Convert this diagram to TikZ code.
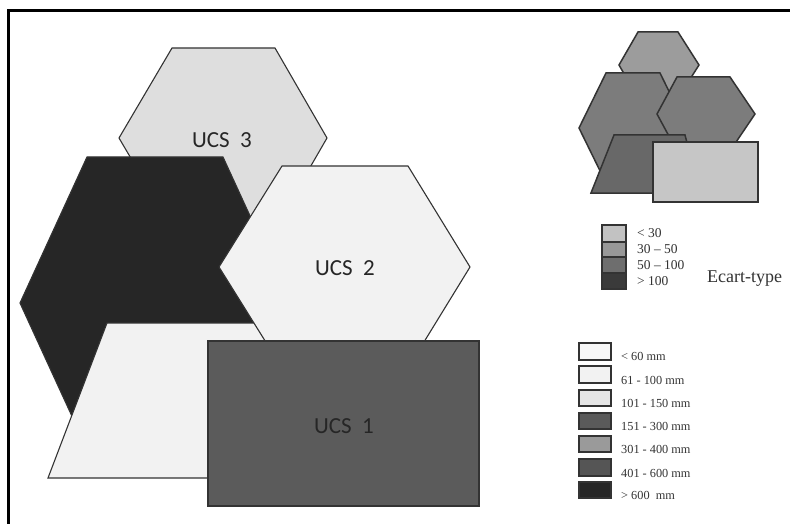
\documentclass[tikz,border=0pt]{standalone}
\usepackage{fontspec}
\setmainfont{Liberation Serif}
\newfontfamily\ucsfont{Carlito}
\definecolor{edgec}{HTML}{333333}
\definecolor{ucsthree}{HTML}{DEDEDE}
\definecolor{darkc}{HTML}{262626}
\definecolor{paleC}{HTML}{F2F2F2}
\definecolor{rectc}{HTML}{5B5B5B}
\definecolor{sTop}{HTML}{9C9C9C}
\definecolor{sMid}{HTML}{7C7C7C}
\definecolor{sTrap}{HTML}{686868}
\definecolor{sRect}{HTML}{C6C6C6}
\definecolor{eA}{HTML}{C2C2C2}
\definecolor{eB}{HTML}{989898}
\definecolor{eC}{HTML}{6E6E6E}
\definecolor{eD}{HTML}{3A3A3A}
\definecolor{mA}{HTML}{F8F8F8}
\definecolor{mB}{HTML}{F2F2F2}
\definecolor{mC}{HTML}{E6E6E6}
\definecolor{mD}{HTML}{5A5A5A}
\definecolor{mE}{HTML}{9A9A9A}
\definecolor{mF}{HTML}{555555}
\definecolor{mG}{HTML}{262626}
\tikzset{
  bigshape/.style={draw=edgec, line width=1.1pt, line join=miter},
  smallshape/.style={draw=edgec, line width=1.5pt, line join=miter},
  ucslabel/.style={font=\ucsfont\fontsize{23}{26}\selectfont, text=black!85, inner sep=0pt},
  ebox/.style={draw=edgec, line width=1.3pt},
  mbox/.style={draw=edgec, line width=1.5pt},
  elabel/.style={font=\fontsize{13.5}{14}\selectfont, text=black!80, anchor=west, inner sep=0pt},
  mlabel/.style={font=\fontsize{12.3}{13}\selectfont, text=black!80, anchor=west, inner sep=0pt}
}
\begin{document}
\begin{tikzpicture}[x=1pt,y=-1pt]
\useasboundingbox (0,0) rectangle (790,524);
\fill[white] (0,0) rectangle (790,524);
% frame
\draw[line width=3pt] (8,524) -- (8,11) -- (790,11);
% main shapes
\filldraw[bigshape, fill=ucsthree] (172,48) -- (275,48) -- (327,138) -- (275,228) -- (172,228) -- (119,138) -- cycle;
\filldraw[bigshape, fill=darkc] (87,157) -- (223,157) -- (290,303) -- (223,449) -- (87,449) -- (20,303) -- cycle;
\filldraw[bigshape, fill=paleC] (107,323) -- (300,323) -- (360,478) -- (48,478) -- cycle;
\filldraw[bigshape, fill=paleC] (282,166) -- (408,166) -- (470,267) -- (408,368) -- (282,368) -- (219,267) -- cycle;
\filldraw[bigshape, fill=rectc] (208,341) rectangle (479,506);
\node[ucslabel] (u3) at (222,140) {UCS\ \ 3};
\node[ucslabel] (u2) at (345,268) {UCS\ \ 2};
\node[ucslabel] (u1) at (344,426) {UCS\ \ 1};
% small legend shapes
\filldraw[smallshape, fill=sTop] (638,32) -- (678,32) -- (699,65) -- (678,98) -- (638,98) -- (619,65) -- cycle;
\filldraw[smallshape, fill=sMid] (606,73) -- (660,73) -- (687,128) -- (660,183) -- (606,183) -- (579,128) -- cycle;
\filldraw[smallshape, fill=sMid] (677,77) -- (730,77) -- (755,114) -- (730,151) -- (677,151) -- (657,114) -- cycle;
\filldraw[smallshape, fill=sTrap] (614,135) -- (685,135) -- (700,193) -- (591,193) -- cycle;
\filldraw[smallshape, fill=sRect] (653,142) rectangle (758,202);
% Ecart-type legend
\filldraw[ebox, fill=eA] (602,225) rectangle (626,242);
\filldraw[ebox, fill=eB] (602,242) rectangle (626,257);
\filldraw[ebox, fill=eC] (602,257) rectangle (626,273);
\filldraw[ebox, fill=eD] (602,273) rectangle (626,289);
\node[elabel] (e1) at (637,233) {< 30};
\node[elabel] (e2) at (637,249) {30 – 50};
\node[elabel] (e3) at (637,265) {50 – 100};
\node[elabel] (e4) at (637,281) {> 100};
\node[font=\fontsize{18}{20}\selectfont, text=black!80, anchor=west, inner sep=0pt] (et) at (707,279) {Ecart-type};
% mm legend
\filldraw[mbox, fill=mA] (579,343) rectangle (611,360);
\filldraw[mbox, fill=mB] (579,366) rectangle (611,383);
\filldraw[mbox, fill=mC] (579,390) rectangle (611,406);
\filldraw[mbox, fill=mD] (579,413) rectangle (611,429);
\filldraw[mbox, fill=mE] (579,436) rectangle (611,452);
\filldraw[mbox, fill=mF] (579,459) rectangle (611,476);
\filldraw[mbox, fill=mG] (579,482) rectangle (611,498);
\node[mlabel] (m1) at (621,356) {< 60 mm};
\node[mlabel] (m2) at (621,380) {61 - 100 mm};
\node[mlabel] (m3) at (621,403) {101 - 150 mm};
\node[mlabel] (m4) at (621,426) {151 - 300 mm};
\node[mlabel] (m5) at (621,449) {301 - 400 mm};
\node[mlabel] (m6) at (621,473) {401 - 600 mm};
\node[mlabel] (m7) at (621,495) {> 600\ \ mm};
\end{tikzpicture}
\end{document}
